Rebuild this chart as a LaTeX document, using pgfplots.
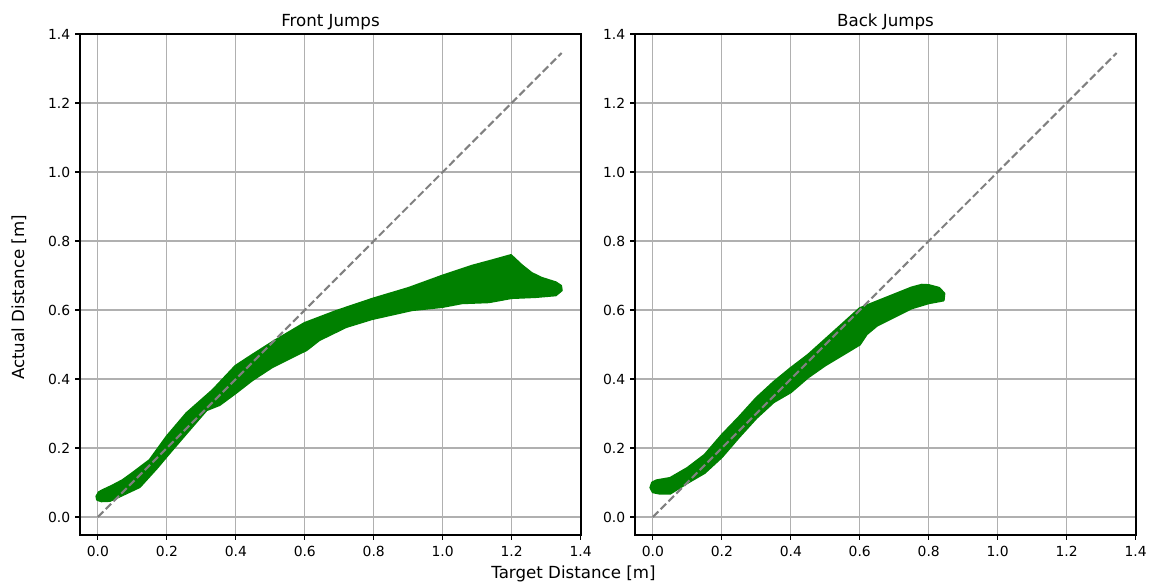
\documentclass[border=0pt]{standalone}
\usepackage{fontspec}
\setmainfont{DejaVu Sans}
\usepackage{pgfplots}
\pgfplotsset{compat=1.18}
\definecolor{mplgreen}{RGB}{0,128,0}
\definecolor{gridgray}{HTML}{B0B0B0}
\definecolor{diaggray}{HTML}{808080}

\pgfplotsset{
  jumpax/.style={
    scale only axis, width=360.7pt, height=360.7pt,
    xmin=-0.052, xmax=1.401, ymin=-0.052, ymax=1.4,
    xtick={0,0.2,0.4,0.6,0.8,1.0,1.2,1.4},
    ytick={0,0.2,0.4,0.6,0.8,1.0,1.2,1.4},
    grid=major, grid style={gridgray, line width=0.8pt},
    axis line style={line width=0.8pt},
    tick pos=left, tick align=outside, major tick length=3.5pt,
    every tick/.style={black, line width=0.8pt},
    tick label style={font=\fontsize{10}{12}\selectfont},
    xticklabel style={yshift=-1pt},
    /pgf/number format/.cd, fixed, fixed zerofill, precision=1, assume math mode=true,
    /pgfplots/.cd,
    title style={font=\fontsize{12}{14}\selectfont, at={(0.5,1)}, anchor=base, yshift=-0.7pt, inner sep=0pt},
  },
  diag/.style={diaggray, line width=1.5pt, dash pattern=on 5.55pt off 2.4pt},
  band/.style={draw=mplgreen, fill=mplgreen, line width=1.6pt, line join=round},
}

\begin{document}
\begin{tikzpicture}
\path[use as bounding box] (-57.6pt,-33.84pt) rectangle (773.3pt,385.2pt);

% Front Jumps: outline of the scatter cloud (upper edge, then lower edge back)
\begin{axis}[jumpax, at={(0pt,0pt)}, anchor=south west, title={Front Jumps}]
\addplot[band] coordinates {
  (-0.004,0.060)(0.003,0.072)(0.014,0.078)(0.040,0.090)(0.072,0.107)(0.101,0.128)(0.150,0.165)
  (0.200,0.234)(0.257,0.301)(0.333,0.368)(0.399,0.438)(0.448,0.470)
  (0.506,0.507)(0.599,0.562)(0.691,0.597)(0.795,0.632)(0.902,0.664)
  (0.998,0.699)(1.085,0.728)(1.148,0.745)(1.198,0.759)(1.229,0.730)
  (1.258,0.707)(1.287,0.693)(1.328,0.680)(1.343,0.670)(1.345,0.657)
  (1.328,0.643)(1.270,0.638)(1.200,0.635)(1.134,0.623)(1.056,0.620)
  (0.998,0.609)(0.911,0.600)(0.795,0.574)(0.720,0.551)(0.642,0.513)
  (0.605,0.484)(0.564,0.464)(0.506,0.435)(0.448,0.397)(0.399,0.359)
  (0.353,0.325)(0.315,0.310)(0.257,0.243)(0.208,0.186)(0.171,0.142)
  (0.121,0.087)(0.072,0.064)(0.035,0.047)(0.010,0.046)(-0.002,0.050)
} -- cycle;
\addplot[diag] coordinates {(0,0)(1.345,1.345)};
\end{axis}

% Back Jumps
\begin{axis}[jumpax, at={(399.6pt,0pt)}, anchor=south west, title={Back Jumps}]
\addplot[band] coordinates {
  (-0.007,0.085)(-0.002,0.100)(0.010,0.106)(0.050,0.113)(0.100,0.142)
  (0.150,0.180)(0.200,0.238)(0.250,0.290)(0.300,0.345)(0.350,0.391)
  (0.400,0.432)(0.450,0.470)(0.500,0.515)(0.550,0.560)(0.600,0.605)
  (0.650,0.625)(0.700,0.645)(0.750,0.665)(0.780,0.673)(0.800,0.672)
  (0.830,0.664)(0.845,0.648)(0.843,0.628)
  (0.800,0.620)(0.750,0.605)(0.700,0.580)(0.650,0.555)(0.620,0.530)
  (0.600,0.500)(0.550,0.470)(0.500,0.440)(0.450,0.405)(0.400,0.362)
  (0.350,0.333)(0.300,0.287)(0.250,0.232)(0.200,0.174)(0.150,0.128)
  (0.100,0.099)(0.050,0.068)(0.020,0.068)(0.000,0.072)
} -- cycle;
\addplot[diag] coordinates {(0,0)(1.345,1.345)};
\end{axis}

\node[font=\fontsize{12}{14}\selectfont, anchor=base] at (355.3pt,-31pt) {Target Distance [m]};
\node[font=\fontsize{12}{14}\selectfont, rotate=90, anchor=center] at (-44pt,171pt) {Actual Distance [m]};
\end{tikzpicture}
\end{document}
